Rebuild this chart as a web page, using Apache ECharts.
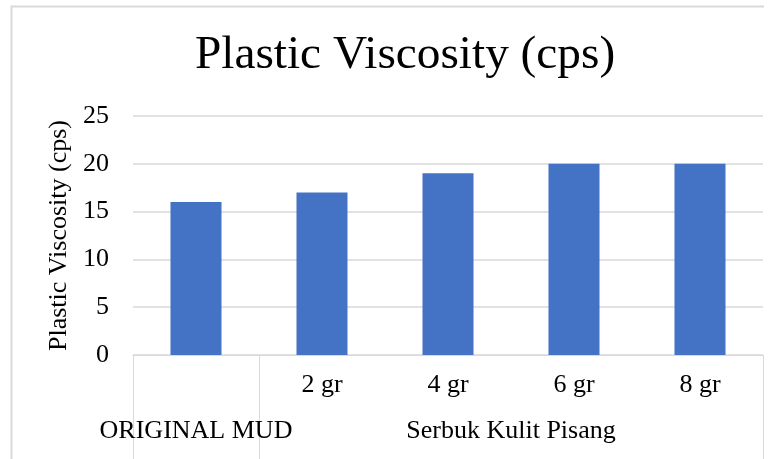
<!DOCTYPE html>
<html>
<head>
<meta charset="utf-8">
<script src="https://cdn.jsdelivr.net/npm/echarts@6/dist/echarts.min.js"></script>
<style>
  html, body { margin: 0; padding: 0; background: #fff; }
  #chart { width: 779px; height: 459px; }
</style>
</head>
<body>
<div id="chart"></div>
<script>
// data
var categories = ['', '2 gr', '4 gr', '6 gr', '8 gr'];
var values = [16, 17, 19, 20, 20];
var groupNames = ['ORIGINAL MUD', 'Serbuk Kulit Pisang'];
var groupCenters = [0.5, 3];   // in category units
var groupEdges = [0, 1, 5];
var yTicks = [0, 5, 10, 15, 20, 25];

var font = 'Liberation Serif, Times New Roman, serif';
var gray = '#d9d9d9';

var myChart = echarts.init(document.getElementById('chart'));

var option = {
    animation: false,
    title: {
        text: 'Plastic Viscosity (cps)',
        left: 190,
        top: 27,
        textStyle: { fontFamily: font, fontSize: 47.3, fontWeight: 'normal', color: '#000' }
    },
    grid: { left: 133, right: 16, top: 116, bottom: 104 },
    // chart frame (top and left edges only visible)
    graphic: [{
        type: 'polyline',
        shape: { points: [[11.5, 470], [11.5, 6.5], [764, 6.5]] },
        style: { fill: 'none', stroke: gray, lineWidth: 2 },
        silent: true
    }],
    xAxis: [{
        type: 'category',
        data: categories,
        axisLine: { lineStyle: { color: gray } },
        axisTick: { show: false },
        axisLabel: { margin: 17, fontFamily: font, fontSize: 26, color: '#000' }
    }, {
        type: 'value',
        min: 0,
        max: 5,
        position: 'bottom',
        axisLine: { show: false },
        splitLine: { show: false },
        axisTick: { show: true, customValues: groupEdges, length: 110, lineStyle: { color: gray } },
        axisLabel: {
            customValues: groupCenters,
            margin: 63,
            fontFamily: font, fontSize: 26, color: '#000',
            formatter: function (v) {
                var i = groupCenters.indexOf(v);
                return i >= 0 ? groupNames[i] : '';
            }
        }
    }],
    yAxis: {
        type: 'value',
        min: yTicks[0],
        max: yTicks[yTicks.length - 1],
        interval: 5,
        name: 'Plastic Viscosity (cps)',
        nameLocation: 'middle',
        nameGap: 57,
        nameTextStyle: { fontFamily: font, fontSize: 26, color: '#000' },
        axisLine: { show: false },
        axisTick: { show: false },
        axisLabel: { margin: 24, fontFamily: font, fontSize: 26, color: '#000' },
        splitLine: { lineStyle: { color: gray, width: 1.5 } }
    },
    series: [{
        type: 'bar',
        xAxisIndex: 0,
        data: values,
        barWidth: '40.5%',
        itemStyle: { color: '#4472C4' }
    }]
};

myChart.setOption(option);
</script>
</body>
</html>
